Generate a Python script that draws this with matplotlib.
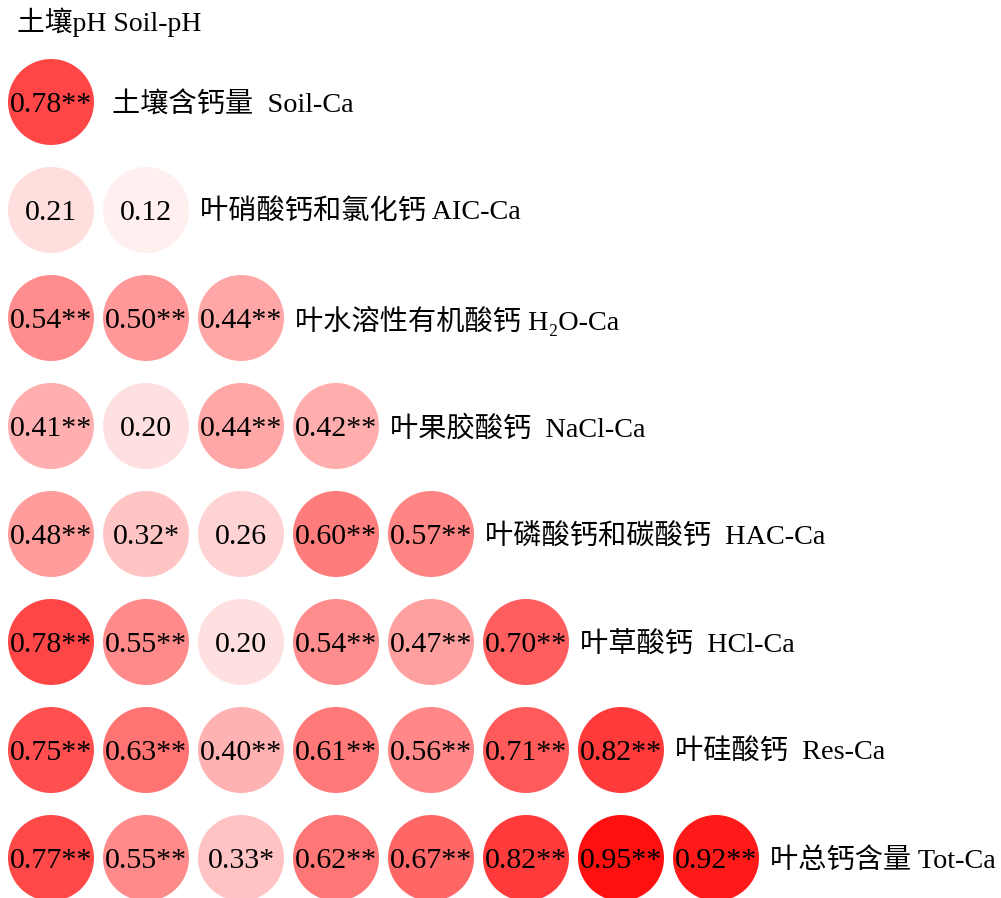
import matplotlib
matplotlib.use("Agg")
import matplotlib.pyplot as plt
from matplotlib.patches import Ellipse
from matplotlib.colors import LinearSegmentedColormap, PowerNorm

# ---- data ----
top_label = "土壤pH Soil-pH"
row_labels = [
    "土壤含钙量  Soil-Ca",
    "叶硝酸钙和氯化钙 AIC-Ca",
    "叶水溶性有机酸钙 H₂O-Ca",
    "叶果胶酸钙  NaCl-Ca",
    "叶磷酸钙和碳酸钙  HAC-Ca",
    "叶草酸钙  HCl-Ca",
    "叶硅酸钙  Res-Ca",
    "叶总钙含量 Tot-Ca",
]
values = [
    [0.78],
    [0.21, 0.12],
    [0.54, 0.50, 0.44],
    [0.41, 0.20, 0.44, 0.42],
    [0.48, 0.32, 0.26, 0.60, 0.57],
    [0.78, 0.55, 0.20, 0.54, 0.47, 0.70],
    [0.75, 0.63, 0.40, 0.61, 0.56, 0.71, 0.82],
    [0.77, 0.55, 0.33, 0.62, 0.67, 0.82, 0.95, 0.92],
]
signif = [
    ["**"],
    ["", ""],
    ["**", "**", "**"],
    ["**", "", "**", "**"],
    ["**", "*", "", "**", "**"],
    ["**", "**", "", "**", "**", "**"],
    ["**", "**", "**", "**", "**", "**", "**"],
    ["**", "**", "*", "**", "**", "**", "**", "**"],
]

W, H = 1001, 898
fig = plt.figure(figsize=(W / 100, H / 100), dpi=100)
ax = fig.add_axes([0, 0, 1, 1])
ax.axis("off")

xs, ys = 95.0, 108.0
x0 = -51 / xs
y0 = -102 / ys
ax.set_xlim(x0, x0 + W / xs)
ax.set_ylim(y0 + H / ys, y0)

cmap = LinearSegmentedColormap.from_list("wr", ["#ffffff", "#ff0000"])
norm = PowerNorm(gamma=1.3, vmin=0, vmax=1)
fam = ["Liberation Serif", "Noto Sans CJK SC"]
dy = 0.03

for j, (row, sig) in enumerate(zip(values, signif)):
    for i, (v, s) in enumerate(zip(row, sig)):
        ax.add_patch(Ellipse((i, j), 86 / xs, 86 / ys, facecolor=cmap(norm(v)),
                             edgecolor="none"))
        ax.text(i, j + dy, f"{v:.2f}{s}", ha="center", va="center",
                fontsize=21.5, family=fam, color="black")
    lx = len(row) - 0.43 + (0.07 if j == 0 else 0.0)
    ax.text(lx, j + dy, row_labels[j], ha="left", va="center",
            fontsize=20.3, family=fam, color="black")

ax.text(-0.36, -0.735, top_label, ha="left", va="center", fontsize=20,
        family=fam, color="black")

fig.savefig("out.png", dpi=100)
